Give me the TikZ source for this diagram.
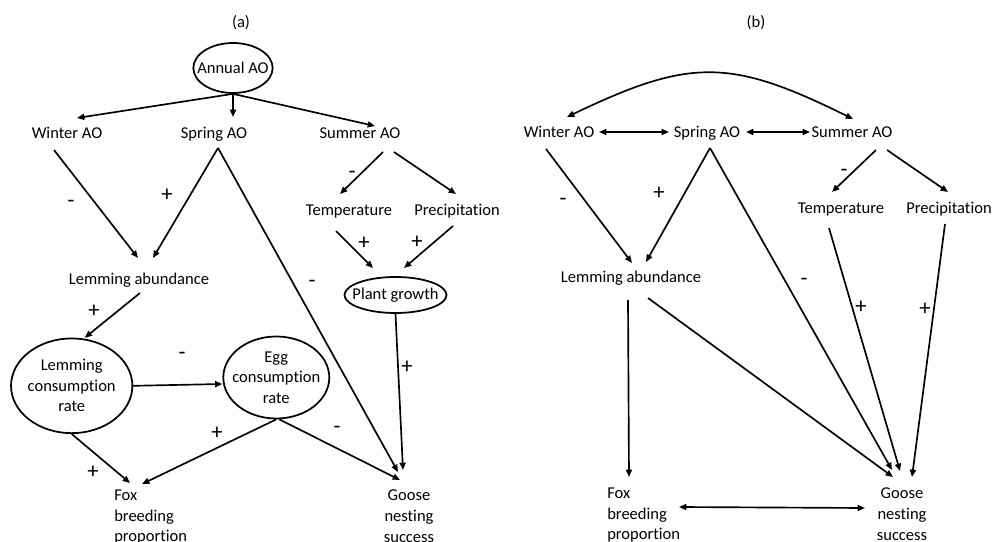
\documentclass[tikz,border=0pt]{standalone}
\usepackage{fontspec}
\setmainfont{Carlito}[Ligatures=NoCommon]
\usetikzlibrary{arrows.meta,calc,shapes.geometric}
\begin{document}
\begin{tikzpicture}[x=0.75pt,y=-0.75pt,
  every node/.style={font=\fontsize{12.4pt}{15.4pt}\selectfont},
  lab/.style={inner sep=0pt,text height=8pt,text depth=0pt},
  multi/.style={inner sep=0pt,align=left},
  ell/.style={draw,line width=1.3pt,ellipse,inner sep=-30pt,align=center},
  arr/.style={line width=1.25pt,-{Triangle[length=5.5pt,width=4.5pt]}},
  darr/.style={line width=1.25pt,{Triangle[length=5.5pt,width=4.5pt]}-{Triangle[length=5.5pt,width=4.5pt]}},
  sgn/.style={inner sep=0pt,font=\fontsize{17pt}{17pt}\selectfont},
  neg/.style={sgn,yshift=-1.5pt}
  ]
\useasboundingbox (0,0) rectangle (993,542);

% ---------- panel (a) ----------
\node[lab] (ta) at (241,22) {(a)};
\node[ell,minimum width=59.5pt,minimum height=37.5pt] (annual) at (233,68) {Annual AO};
\node[lab] (winA) at (67,133) {Winter AO};
\node[lab] (sprA) at (214,133) {Spring AO};
\node[lab] (sumA) at (360,133) {Summer AO};
\node[lab] (tempA) at (349,210) {Temperature};
\node[lab] (precA) at (457,210) {Precipitation};
\node[ell,minimum width=76.5pt,minimum height=27pt] (plantA) at (395.5,295) {Plant growth};
\node[lab] (lemA) at (139,279) {Lemming abundance};
\node[ell,minimum width=91pt,minimum height=71pt] (lcA) at (71.7,385.8) {Lemming\\consumption\\rate};
\node[ell,minimum width=79.5pt,minimum height=61.5pt] (ecA) at (276.3,377.5) {Egg\\consumption\\rate};
\node[multi,anchor=north west] (foxA) at (114,490) {Fox\\breeding\\proportion};
\node[multi,align=center,anchor=north] (gooseA) at (409,490) {Goose\\nesting\\success};

\draw[arr] (annual.south) -- ($(winA)+(10,-15)$);
\draw[arr] (annual.south) -- ($(sprA)+(19,-16)$);
\draw[arr] (annual.south) -- ($(sumA)+(15,-7)$);
\draw[arr] ($(winA)+(-13,17)$) -- ($(lemA)+(-1,-21)$);
\draw[arr] ($(sprA)+(4,15)$) -- ($(lemA)+(14,-21)$);
\draw[arr] ($(sprA)+(4,15)$) -- ($(gooseA.north)+(-11,-18)$);
\draw[arr] ($(sumA)+(23,19)$) -- ($(tempA)+(-9,-16)$);
\draw[arr] ($(sumA)+(34,19)$) -- ($(precA)+(-1,-16)$);
\draw[arr] ($(tempA)+(-13,21)$) -- ($(plantA)+(-22.5,-27)$);
\draw[arr] ($(precA)+(-4,16)$) -- ($(plantA)+(8.5,-27)$);
\draw[arr] (plantA.south) -- ($(gooseA.north)+(-6,-20)$);
\draw[arr] ($(lemA)+(1,14)$) -- ($(lcA)+(13,-48)$);
\draw[arr] (lcA.east) -- ($(ecA.west)+(0,6.5)$);
\draw[arr] (lcA.south) -- ($(foxA.north west)+(16,-7)$);
\draw[arr] (ecA.south) -- ($(foxA.north west)+(28,-6)$);
\draw[arr] ($(ecA.south)+(3,0)$) -- ($(gooseA.north)+(-9,-10)$);

\node[neg] (a1) at (71,202) {-};
\node[sgn] (a2) at (167,195) {+};
\node[neg] (a3) at (312,282) {-};
\node[neg] (a4) at (352,173) {-};
\node[sgn] (a5) at (364,243) {+};
\node[sgn] (a6) at (417,242) {+};
\node[sgn] (a7) at (407,367) {+};
\node[sgn] (a8) at (94,311) {+};
\node[neg] (a9) at (182,354) {-};
\node[sgn] (a10) at (93,472) {+};
\node[sgn] (a11) at (217,433) {+};
\node[neg] (a12) at (337,428) {-};

% ---------- panel (b) ----------
\node[lab] (tb) at (756,22) {(b)};
\node[lab] (winB) at (559,132) {Winter AO};
\node[lab] (sprB) at (707,132) {Spring AO};
\node[lab] (sumB) at (852,132) {Summer AO};
\node[lab] (tempB) at (841,208) {Temperature};
\node[lab] (precB) at (949,208) {Precipitation};
\node[lab] (lemB) at (631,277) {Lemming abundance};
\node[multi,anchor=north west] (foxB) at (607,488) {Fox\\breeding\\proportion};
\node[multi,align=center,anchor=north] (gooseB) at (902,488) {Goose\\nesting\\success};

\draw[darr] ($(winB)+(8,-15)$) .. controls ($(winB)+(131,-74)$) and ($(sumB)+(-122,-74)$) .. ($(sumB)+(1,-13)$);
\draw[darr] ($(winB)+(40,0)$) -- ($(sprB)+(-38,0)$);
\draw[darr] ($(sprB)+(39,0)$) -- ($(sumB)+(-42,0)$);
\draw[arr] ($(winB)+(-13,17)$) -- ($(lemB)+(1,-14)$);
\draw[arr] ($(sprB)+(3,16)$) -- ($(lemB)+(15,-15)$);
\draw[arr] ($(sprB)+(3,16)$) -- ($(gooseB.north)+(-10,-18)$);
\draw[arr] ($(sumB)+(24,18)$) -- ($(tempB)+(-9,-16)$);
\draw[arr] ($(sumB)+(35,18)$) -- ($(precB)+(-1,-16)$);
\draw[arr] ($(tempB)+(-12,20)$) -- ($(gooseB.north)+(-2,-17)$);
\draw[arr] ($(precB)+(-4,16)$) -- ($(gooseB.north)+(10,-11)$);
\draw[arr] ($(lemB)+(-3,23)$) -- ($(foxB.north west)+(22,-11)$);
\draw[arr] ($(lemB)+(17,21)$) -- ($(gooseB.north)+(-9,-11)$);
\draw[darr] ($(foxB.north west)+(72,19)$) -- ($(gooseB.north)+(-37,20)$);

\node[neg] (b1) at (563,200) {-};
\node[sgn] (b2) at (659,193) {+};
\node[neg] (b3) at (844,171) {-};
\node[neg] (b4) at (804,280) {-};
\node[sgn] (b5) at (861,307) {+};
\node[sgn] (b6) at (925,309) {+};
\end{tikzpicture}
\end{document}
